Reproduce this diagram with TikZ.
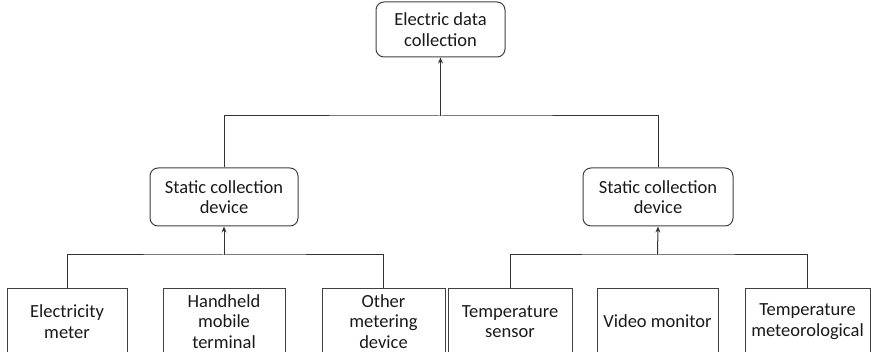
\documentclass[tikz,border=0pt]{standalone}
\usepackage{fontspec}
\setmainfont{Carlito}
\usetikzlibrary{arrows.meta}
\begin{document}
\begin{tikzpicture}[x=1pt,y=-1pt,
  every node/.style={text=black!90, font=\fontsize{18.5}{20.5}\selectfont, align=center, inner sep=0pt},
  rbox/.style={draw=black!75, line width=1pt, rounded corners=8pt},
  sbox/.style={draw=black!75, line width=1pt},
  conn/.style={draw=black!80, line width=1pt},
  arr/.style={conn, -{Stealth[length=6pt,width=5pt]}}]
\clip (0,0) rectangle (871,352);
\useasboundingbox (0,0) rectangle (871,352);
\node[rbox, minimum width=129pt, minimum height=55pt] (top) at (440.5,29.5) {Electric data\\collection};
\node[rbox, minimum width=148pt, minimum height=58pt] (mL) at (224,197) {Static collection\\device};
\node[rbox, minimum width=150pt, minimum height=58pt] (mR) at (658,197) {Static collection\\device};
\node[sbox, minimum width=120pt, minimum height=65pt] (b1) at (67,321.5) {Electricity\\meter};
\node[sbox, minimum width=122pt, minimum height=65pt] (b2) at (224,321.5) {Handheld\\mobile\\terminal};
\node[sbox, minimum width=123pt, minimum height=65pt] (b3) at (383.5,321.5) {Other\\metering\\device};
\node[sbox, minimum width=124pt, minimum height=65pt] (b4) at (510,321.5) {Temperature\\sensor};
\node[sbox, minimum width=121pt, minimum height=65pt] (b5) at (657.5,321.5) {Video monitor};
\node[sbox, minimum width=125pt, minimum height=65pt] (b6) at (807.5,321.5) {Temperature\\meteorological};
\coordinate (j0) at (440.5,116);
\coordinate (jL) at (224,255);
\coordinate (jR) at (657.5,255);
\draw[conn] (mL.north) |- (j0) -| (mR.north);
\draw[arr] (j0) -- (top.south);
\draw[conn] (b1.north) |- (jL) -| (b3.north);
\draw[arr] (jL) -- (mL.south);
\draw[conn] (b4.north) |- (jR) -| (b6.north);
\draw[arr] (jR) -- (mR.south);
\end{tikzpicture}
\end{document}
